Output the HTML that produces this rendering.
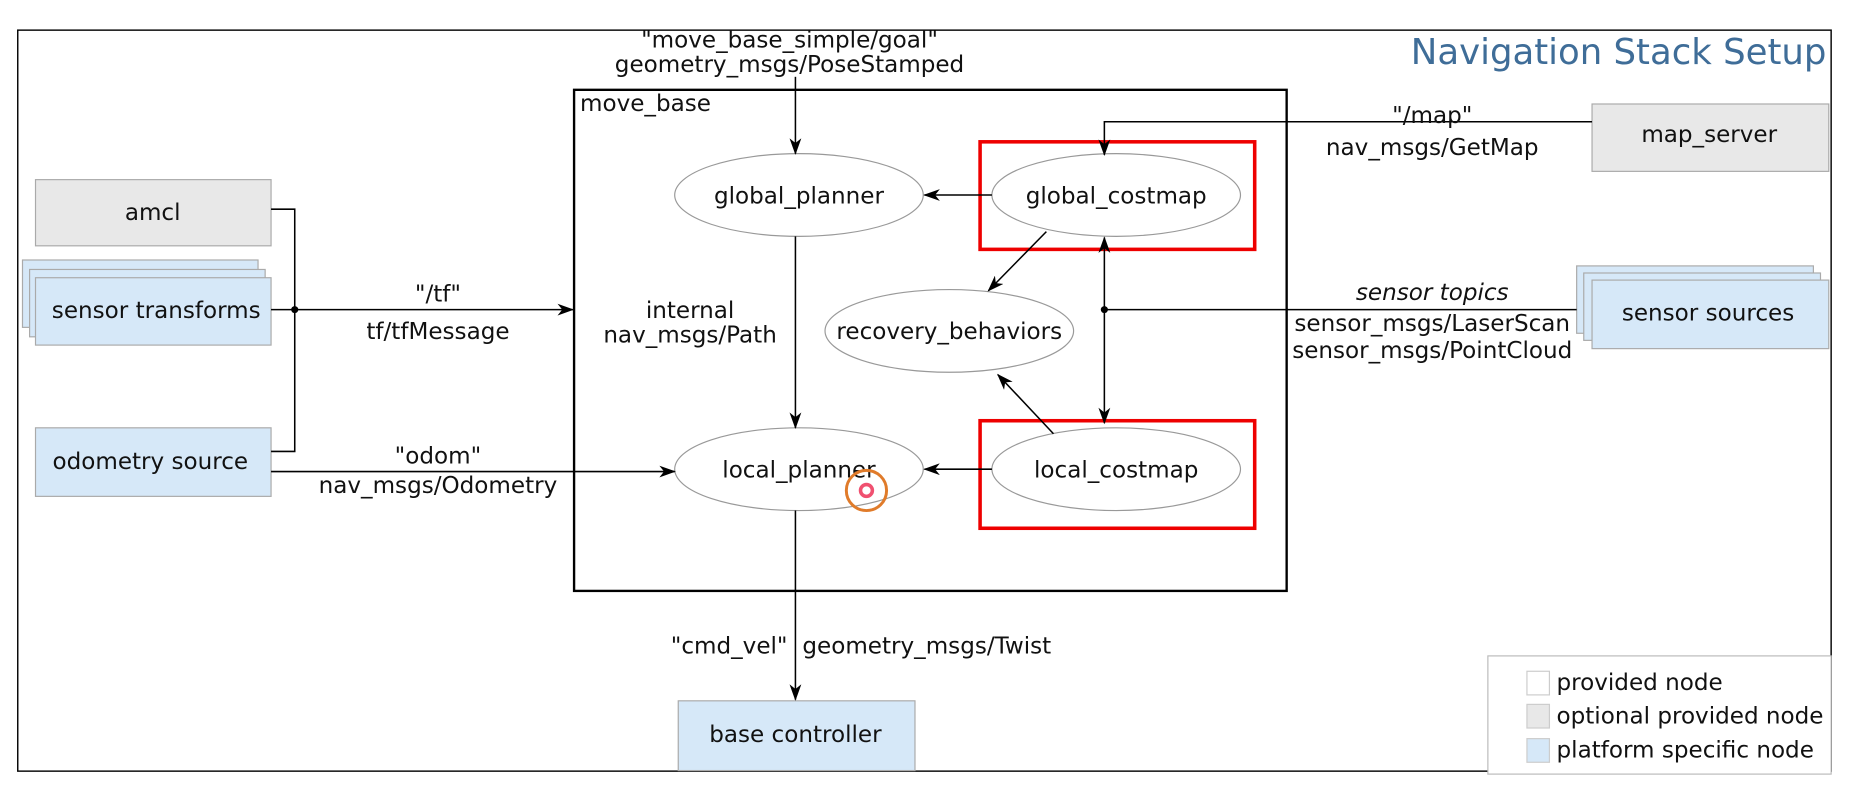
<!DOCTYPE html>
<html><head><meta charset="utf-8"><style>
html,body{margin:0;padding:0;background:#fff;}
svg{display:block;}
text{font-family:"DejaVu Sans","Liberation Sans",sans-serif;font-size:19.5px;fill:#111;}
</style></head><body>
<svg width="1856" height="793" viewBox="0 0 1568 671" preserveAspectRatio="none" xmlns="http://www.w3.org/2000/svg">
<defs>
<marker id="a" markerWidth="14" markerHeight="10" refX="13" refY="5" orient="auto" markerUnits="userSpaceOnUse">
<path d="M0,0 L14,5 L0,10 L4,5 z" fill="#000"/></marker>
<marker id="as" markerWidth="14" markerHeight="10" refX="1" refY="5" orient="auto" markerUnits="userSpaceOnUse">
<path d="M14,0 L0,5 L14,10 L10,5 z" fill="#000"/></marker>
</defs>
<rect x="0" y="0" width="1568" height="671" fill="#fff"/>
<rect x="15" y="25.5" width="1532" height="627" fill="#fff" stroke="#000" stroke-width="1.2"/>
<text x="1543" y="54" text-anchor="end" style="font-size:30px;fill:#3f6d98">Navigation Stack Setup</text>

<rect x="485" y="76" width="602" height="424" fill="none" stroke="#000" stroke-width="2"/>
<text x="490" y="94">move_base</text>

<rect x="828" y="120" width="232" height="91" fill="none" stroke="#e00" stroke-width="3"/>
<rect x="828" y="356" width="232" height="91" fill="none" stroke="#e00" stroke-width="3"/>

<g fill="#fff" stroke="#999" stroke-width="1">
<ellipse cx="675" cy="165" rx="105" ry="35"/>
<ellipse cx="943" cy="165" rx="105" ry="35"/>
<ellipse cx="802" cy="280" rx="105" ry="35"/>
<ellipse cx="675" cy="397" rx="105" ry="35"/>
<ellipse cx="943" cy="397" rx="105" ry="35"/>
</g>
<g text-anchor="middle">
<text x="675" y="172">global_planner</text>
<text x="943" y="172">global_costmap</text>
<text x="802" y="287">recovery_behaviors</text>
<text x="675" y="404">local_planner</text>
<text x="943" y="404">local_costmap</text>
</g>
<circle cx="732" cy="415" r="17" fill="none" stroke="#e07b2a" stroke-width="2.5"/>
<circle cx="732" cy="415" r="5" fill="none" stroke="#f05070" stroke-width="3"/>

<rect x="30" y="152" width="199" height="56" fill="#e8e8e8" stroke="#aaa"/>
<text x="129" y="186" text-anchor="middle">amcl</text>
<rect x="19" y="220" width="199" height="57" fill="#d6e8f8" stroke="#aaa"/>
<rect x="25" y="228" width="199" height="57" fill="#d6e8f8" stroke="#aaa"/>
<rect x="30" y="235" width="199" height="57" fill="#d6e8f8" stroke="#aaa"/>
<text x="132" y="269" text-anchor="middle">sensor transforms</text>
<rect x="30" y="362" width="199" height="58" fill="#d6e8f8" stroke="#aaa"/>
<text x="127" y="397" text-anchor="middle">odometry source</text>

<rect x="1345" y="88" width="200" height="57" fill="#e8e8e8" stroke="#aaa"/>
<text x="1444" y="120" text-anchor="middle">map_server</text>
<rect x="1332" y="225" width="200" height="57" fill="#d6e8f8" stroke="#aaa"/>
<rect x="1338" y="231" width="200" height="57" fill="#d6e8f8" stroke="#aaa"/>
<rect x="1345" y="237" width="200" height="58" fill="#d6e8f8" stroke="#aaa"/>
<text x="1443" y="271" text-anchor="middle">sensor sources</text>

<rect x="573" y="593" width="200" height="59" fill="#d6e8f8" stroke="#aaa"/>
<text x="672" y="628" text-anchor="middle">base controller</text>

<g stroke="#000" stroke-width="1.3" fill="none">
<polyline points="229,177 249,177 249,382 229,382"/>
<line x1="229" y1="262" x2="484" y2="262" marker-end="url(#a)"/>
<line x1="229" y1="399" x2="570" y2="399" marker-end="url(#a)"/>
<line x1="672" y1="65" x2="672" y2="130" marker-end="url(#a)"/>
<line x1="672" y1="200" x2="672" y2="362" marker-end="url(#a)"/>
<line x1="838" y1="165" x2="781" y2="165" marker-end="url(#a)"/>
<line x1="838" y1="397" x2="781" y2="397" marker-end="url(#a)"/>
<line x1="884" y1="196" x2="835" y2="246" marker-end="url(#a)"/>
<line x1="890" y1="367" x2="843" y2="317" marker-end="url(#a)"/>
<line x1="933" y1="201" x2="933" y2="358" marker-start="url(#as)" marker-end="url(#a)"/>
<line x1="933" y1="262" x2="1332" y2="262"/>
<polyline points="1345,103 933,103 933,131" marker-end="url(#a)"/>
<line x1="672" y1="432" x2="672" y2="592" marker-end="url(#a)"/>
</g>
<circle cx="249" cy="262" r="3" fill="#000"/>
<circle cx="933" cy="262" r="3" fill="#000"/>

<g text-anchor="middle">
<text x="667" y="40">"move_base_simple/goal"</text>
<text x="667" y="61">geometry_msgs/PoseStamped</text>
<text x="370" y="255">"/tf"</text>
<text x="370" y="287">tf/tfMessage</text>
<text x="370" y="392">"odom"</text>
<text x="370" y="417">nav_msgs/Odometry</text>
<text x="583" y="269">internal</text>
<text x="583" y="290">nav_msgs/Path</text>
<text x="1210" y="104">"/map"</text>
<text x="1210" y="131">nav_msgs/GetMap</text>
<text x="1210" y="254" font-style="italic">sensor topics</text>
<text x="1210" y="280">sensor_msgs/LaserScan</text>
<text x="1210" y="303">sensor_msgs/PointCloud</text>
<text x="616" y="553">"cmd_vel"</text>
<text x="783" y="553">geometry_msgs/Twist</text>
</g>

<rect x="1257" y="555" width="290" height="100" fill="#fff" stroke="#bbb"/>
<rect x="1290" y="568" width="19" height="20" fill="#fff" stroke="#ccc"/>
<rect x="1290" y="596" width="19" height="20" fill="#e8e8e8" stroke="#ccc"/>
<rect x="1290" y="625" width="19" height="20" fill="#d6e8f8" stroke="#ccc"/>
<text x="1315" y="584">provided node</text>
<text x="1315" y="612">optional provided node</text>
<text x="1315" y="641">platform specific node</text>
</svg>
</body></html>
